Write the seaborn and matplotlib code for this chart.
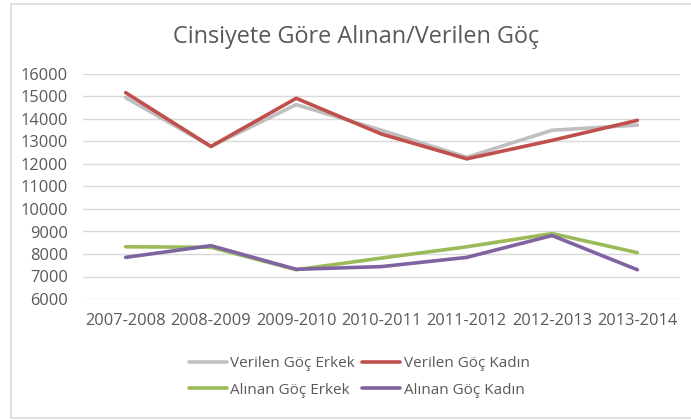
import pandas as pd
import matplotlib
matplotlib.use('Agg')
import matplotlib.pyplot as plt
import seaborn as sns
from matplotlib.patches import Rectangle

# --------------------------
# Data
# --------------------------
periods = ['2007-2008', '2008-2009', '2009-2010', '2010-2011',
           '2011-2012', '2012-2013', '2013-2014']
verilen_erkek = [14950, 12780, 14640, 13500, 12300, 13500, 13730]
verilen_kadin = [15170, 12780, 14920, 13330, 12230, 13050, 13940]
alinan_erkek = [8320, 8300, 7300, 7820, 8320, 8910, 8060]
alinan_kadin = [7850, 8370, 7320, 7440, 7850, 8820, 7300]
series_names = ['Verilen Göç Erkek', 'Verilen Göç Kadın',
                'Alınan Göç Erkek', 'Alınan Göç Kadın']
colors = ['#BFBFBF', '#C0504D', '#9BBB59', '#8064A2']
y_ticks = list(range(6000, 16001, 1000))

frames = []
for name, vals in zip(series_names, [verilen_erkek, verilen_kadin, alinan_erkek, alinan_kadin]):
    frames.append(pd.DataFrame({'Dönem': periods, 'Değer': vals, 'Seri': name}))
df = pd.concat(frames, ignore_index=True)

# --------------------------
# Style
# --------------------------
sns.set_style('white')
plt.rcParams['font.family'] = ['Open Sans', 'DejaVu Sans']
text_color = '#595959'
grid_color = '#D9D9D9'

fig = plt.figure(figsize=(6.91, 4.20), dpi=100)
ax = fig.add_axes([83 / 691, 1 - 299 / 420, (680 - 83) / 691, (299 - 74) / 420])

sns.lineplot(data=df, x='Dönem', y='Değer', hue='Seri', hue_order=series_names,
             palette=colors, linewidth=2.6, sort=False, ax=ax, legend=False)

ax.set_xlim(-0.5, len(periods) - 0.5)
ax.set_ylim(y_ticks[0], y_ticks[-1])
ax.set_yticks(y_ticks)
ax.set_yticklabels([str(t) for t in y_ticks])
ax.yaxis.grid(True, color=grid_color, linewidth=1)
ax.set_axisbelow(True)
for s in ax.spines.values():
    s.set_visible(False)
ax.tick_params(axis='both', length=0, colors=text_color, labelsize=11.8)
ax.tick_params(axis='x', pad=10)
ax.tick_params(axis='y', pad=11)
ax.set_xlabel('')
ax.set_ylabel('')

fig.text(356 / 691, 1 - 37 / 420, 'Cinsiyete Göre Alınan/Verilen Göç', ha='center', va='center',
         fontsize=16.9, color=text_color)

# Legend: two rows
lines = ax.get_lines()[:4]
order = [0, 2, 1, 3]
leg = fig.legend([lines[i] for i in order], [series_names[i] for i in order],
                 loc='center', bbox_to_anchor=(359 / 691, 1 - 377 / 420), ncol=2,
                 frameon=False, fontsize=11, handlelength=2.5, handletextpad=0.2,
                 columnspacing=0.5, labelspacing=0.75)
for t in leg.get_texts():
    t.set_color(text_color)

# Chart border
fig.patches.append(Rectangle((11 / 691, 1 - 418 / 420), 700 / 691, 414 / 420,
                             transform=fig.transFigure, fill=False,
                             edgecolor=grid_color, linewidth=1.2))

fig.savefig('out.png', dpi=100, facecolor='white')
